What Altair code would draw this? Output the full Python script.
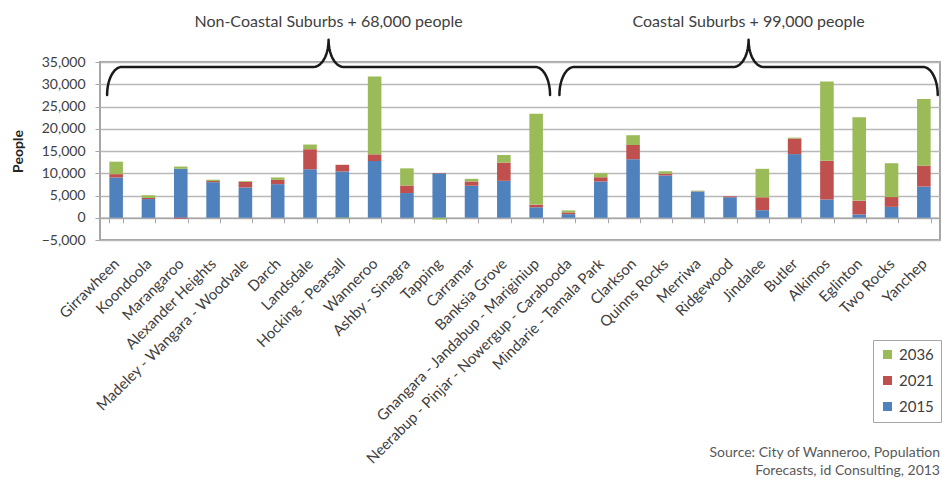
import math

import altair as alt
import pandas as pd

# ---- data -------------------------------------------------------------
suburbs = [
    "Girrawheen", "Koondoola", "Marangaroo", "Alexander Heights",
    "Madeley - Wangara - Woodvale", "Darch", "Landsdale", "Hocking - Pearsall",
    "Wanneroo", "Ashby - Sinagra", "Tapping", "Carramar", "Banksia Grove",
    "Gnangara - Jandabup - Mariginiup", "Neerabup - Pinjar - Nowergup - Carabooda",
    "Mindarie - Tamala Park", "Clarkson", "Quinns Rocks", "Merriwa", "Ridgewood",
    "Jindalee", "Butler", "Alkimos", "Eglinton", "Two Rocks", "Yanchep",
]
# 2015 population, then the change to 2021 and the further change to 2036
pop_2015 = [9050, 4200, 11000, 8000, 6800, 7550, 10900, 10400, 12750, 5550, 9950, 7200, 8300,
            2350, 800, 8150, 13150, 9500, 5900, 4600, 1700, 14300, 4100, 750, 2450, 7000]
change_2021 = [750, 250, -200, 250, 1300, 950, 4500, 1500, 1500, 1700, 100, 950, 4100,
               600, 400, 950, 3200, 400, 50, 200, 2900, 3500, 8700, 3100, 2200, 4700]
change_2036 = [2800, 600, 500, 300, 150, 550, 1050, -100, 17500, 3850, -400, 600, 1700,
               20400, 450, 900, 2200, 550, 150, -50, 6400, 200, 17800, 18750, 7600, 15000]
series_names = ["2015", "2021", "2036"]
series_colors = ["#4F81BD", "#C0504D", "#9BBB59"]
groups = ["Non-Coastal Suburbs + 68,000 people", "Coastal Suburbs + 99,000 people"]
group_sizes = [14, 12]
y_ticks = list(range(-5000, 35001, 5000))
source_lines = ["Source: City of Wanneroo, Population", "Forecasts, id Consulting, 2013"]

# ---- layout / style -----------------------------------------------------
W, H = 840, 178
Y_MIN, Y_MAX = -5000, 35000
FONT = "Lato"
TEXT = "#404040"
GRID = "#b8b8b8"
FRAME = "#a6a6a6"

y_scale = alt.Scale(domain=[Y_MIN, Y_MAX], nice=False, zero=False)
idx_scale = alt.Scale(domain=[0, len(suburbs)], nice=False, zero=False)
zero_px = H * (0 - Y_MIN) / (Y_MAX - Y_MIN)   # height of the zero line above the bottom edge

# one y axis definition shared by every layer, so the merged axis keeps it
y_axis = alt.Axis(
    values=y_ticks, labelExpr="format(datum.value, ',')", title="People", titleFont=FONT,
    titleFontSize=14, titleFontWeight="bold", titleColor="#262626",
    titleX=-82, titleY=H / 2, titleBaseline="middle",
    labelFont=FONT, labelFontSize=14, labelColor=TEXT, labelPadding=10,
    tickSize=5, tickColor=FRAME, domain=False,
    grid=True, gridColor=GRID, gridWidth=1.6,
)

rows = []
for i, s in enumerate(suburbs):
    for k, vals in enumerate([pop_2015, change_2021, change_2036]):
        rows.append({"Suburb": s, "Year": series_names[k], "People": vals[i], "stack": k})
bars_df = pd.DataFrame(rows)

bars = alt.Chart(bars_df).mark_bar().encode(
    x=alt.X(
        "Suburb:N", sort=suburbs,
        scale=alt.Scale(paddingInner=0.58, paddingOuter=0.29),
        axis=alt.Axis(
            title=None, orient="bottom", offset=-zero_px, tickBand="extent",
            tickSize=5, tickColor=FRAME, domainColor=FRAME, domainWidth=1.5,
            labelAngle=-45, labelAlign="right", labelBaseline="middle",
            labelPadding=38, labelFont=FONT, labelFontSize=15, labelColor=TEXT,
            labelLimit=0, labelOverlap=False, grid=False,
        ),
    ),
    y=alt.Y("People:Q", stack="zero", scale=y_scale, axis=y_axis),
    color=alt.Color(
        "Year:N",
        scale=alt.Scale(domain=series_names[::-1], range=series_colors[::-1]),
        legend=alt.Legend(
            title=None, orient="none", legendX=773, legendY=278,
            symbolType="square", symbolSize=81, symbolStrokeWidth=0,
            labelFont=FONT, labelFontSize=15, labelColor=TEXT, labelOffset=4,
            rowPadding=10, padding=7, strokeColor=FRAME,
        ),
    ),
    order=alt.Order("stack:Q", sort="ascending"),
)

# ---- curly braces over the two suburb groups ----------------------------
INSET_L, INSET_R = 0.22, 0.07      # brace ends inside the first / last band
BRACE_TIP, BRACE_LEVEL, BRACE_PEAK = 27600, 33900, 40000
RX = 0.46                          # horizontal reach of each curve, in bands
STEPS = 14

brace_rows, title_rows = [], []
start = 0
for name, n in zip(groups, group_sizes):
    x0, x1 = start + INSET_L, start + n - INSET_R
    xc = (x0 + x1) / 2
    half = []
    for j in range(STEPS + 1):
        t = math.pi / 2 * j / STEPS
        half.append((x0 + RX * (1 - math.cos(t)),
                     BRACE_TIP + (BRACE_LEVEL - BRACE_TIP) * math.sin(t)))
    for j in range(STEPS + 1):
        t = math.pi / 2 * j / STEPS
        half.append((xc - RX + RX * math.sin(t),
                     BRACE_PEAK - (BRACE_PEAK - BRACE_LEVEL) * math.cos(t)))
    full = half + [(2 * xc - x, y) for x, y in reversed(half[:-1])]
    for k, (x, y) in enumerate(full):
        brace_rows.append({"group": name, "pt": k, "x": x, "People": y})
    title_rows.append({"group": name, "x": xc})
    start += n

braces = alt.Chart(pd.DataFrame(brace_rows)).mark_line(
    color="#1a1a1a", strokeWidth=2.5, strokeCap="round", strokeJoin="round"
).encode(
    x=alt.X("x:Q", scale=idx_scale, axis=None),
    y=alt.Y("People:Q", scale=y_scale, axis=y_axis),
    detail="group:N",
    order="pt:Q",
)

TITLE_Y = 42900
titles = alt.Chart(pd.DataFrame(title_rows)).mark_text(
    font=FONT, fontSize=16, color=TEXT, baseline="alphabetic", align="center"
).encode(
    x=alt.X("x:Q", scale=idx_scale, axis=None),
    y=alt.Y("People:Q", scale=y_scale, axis=y_axis),
    text="group:N",
).transform_calculate(People=str(TITLE_Y))

source = alt.Chart(pd.DataFrame({"k": [0]})).mark_text(
    text=source_lines, font=FONT, fontSize=14, color="#595959",
    align="right", baseline="top", lineHeight=18,
).encode(x=alt.value(W), y=alt.value(384))

chart = (
    alt.layer(bars, braces, titles, source)
    .resolve_scale(x="independent")
    .properties(
        width=W, height=H,
        autosize=alt.AutoSizeParams(type="none"),
        padding={"left": 100, "top": 62, "right": 2, "bottom": 242},
        background="white",
    )
    .configure_view(stroke=FRAME, strokeWidth=2)
)

chart.save("out.html", embed_options={"renderer": "svg", "actions": False})
